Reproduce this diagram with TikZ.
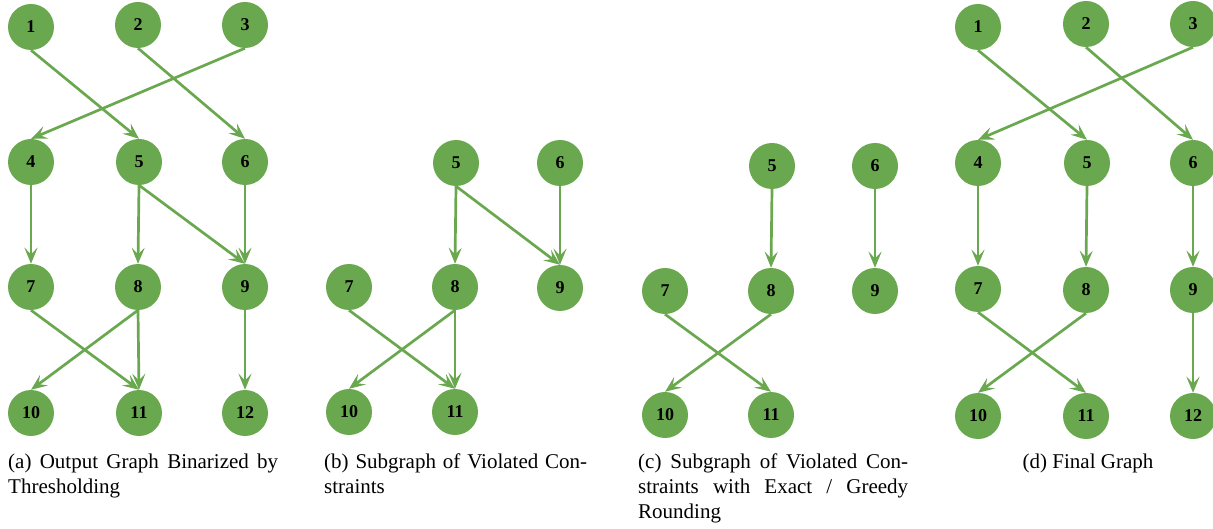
\documentclass[tikz,border=0pt]{standalone}
\usepackage{fontspec}
\setmainfont{Liberation Serif}
\usetikzlibrary{arrows.meta}
\definecolor{leaf}{HTML}{6AA84F}
\tikzset{
  vtx/.style={circle, fill=leaf, draw=none, minimum size=46pt, inner sep=0pt,
              font=\fontsize{18}{18}\selectfont\bfseries},
  edge/.style={draw=leaf, line width=2.7pt,
               -{Stealth[length=16pt, width=13pt, inset=6.5pt]}},
  capline/.style={anchor=base west, inner sep=0pt, font=\fontsize{21}{25}\selectfont}
}
\begin{document}
\begin{tikzpicture}[x=1pt, y=-1pt]
\useasboundingbox (0,0) rectangle (1213,529);

% (a) thresholded graph
\node[vtx] (a1) at (31,27) {1};
\node[vtx] (a2) at (138,25) {2};
\node[vtx] (a3) at (245,25) {3};
\node[vtx] (a4) at (31,162) {4};
\node[vtx] (a5) at (139,162) {5};
\node[vtx] (a6) at (245,162) {6};
\node[vtx] (a7) at (31,287) {7};
\node[vtx] (a8) at (138,287) {8};
\node[vtx] (a9) at (245,287) {9};
\node[vtx] (a10) at (31,413) {10};
\node[vtx] (a11) at (139,413) {11};
\node[vtx] (a12) at (245,413) {12};
\foreach \s/\t in {1/5,2/6,3/4,4/7,5/8,5/9,6/9,7/11,8/10,8/11,9/12}
  \draw[edge] (a\s.south) -- (a\t.north);

% (b) violated constraints
\node[vtx] (b5) at (456,163) {5};
\node[vtx] (b6) at (560,163) {6};
\node[vtx] (b7) at (349,287) {7};
\node[vtx] (b8) at (455,287) {8};
\node[vtx] (b9) at (560,288) {9};
\node[vtx] (b10) at (349,412) {10};
\node[vtx] (b11) at (455,412) {11};
\foreach \s/\t in {5/8,5/9,6/9,7/11,8/10,8/11}
  \draw[edge] (b\s.south) -- (b\t.north);

% (c) violated constraints after rounding
\node[vtx] (c5) at (772,166) {5};
\node[vtx] (c6) at (875,166) {6};
\node[vtx] (c7) at (665,291) {7};
\node[vtx] (c8) at (771,291) {8};
\node[vtx] (c9) at (875,291) {9};
\node[vtx] (c10) at (665,415) {10};
\node[vtx] (c11) at (771,415) {11};
\foreach \s/\t in {5/8,6/9,7/11,8/10}
  \draw[edge] (c\s.south) -- (c\t.north);

% (d) final graph
\node[vtx] (d1) at (978,27) {1};
\node[vtx] (d2) at (1086,24) {2};
\node[vtx] (d3) at (1193,24) {3};
\node[vtx] (d4) at (978,163) {4};
\node[vtx] (d5) at (1087,163) {5};
\node[vtx] (d6) at (1193,163) {6};
\node[vtx] (d7) at (978,289) {7};
\node[vtx] (d8) at (1086,290) {8};
\node[vtx] (d9) at (1193,290) {9};
\node[vtx] (d10) at (978,416) {10};
\node[vtx] (d11) at (1086,416) {11};
\node[vtx] (d12) at (1193,416) {12};
\foreach \s/\t in {1/5,2/6,3/4,4/7,5/8,6/9,7/11,8/10,9/12}
  \draw[edge] (d\s.south) -- (d\t.north);

% sub-captions
\node[capline] (capa1) at (8,468) {\makebox[270pt][s]{(a) Output Graph Binarized by}};
\node[capline] (capa2) at (8,493) {Thresholding};
\node[capline] (capb1) at (324,468) {\makebox[263pt][s]{(b) Subgraph of Violated Con-}};
\node[capline] (capb2) at (324,493) {straints};
\node[capline] (capc1) at (638,468) {\makebox[270pt][s]{(c) Subgraph of Violated Con-}};
\node[capline] (capc2) at (638,493) {\makebox[270pt][s]{straints with Exact / Greedy}};
\node[capline] (capc3) at (638,518) {Rounding};
\node[capline, anchor=base] (capd1) at (1088,468) {(d) Final Graph};
\end{tikzpicture}
\end{document}
